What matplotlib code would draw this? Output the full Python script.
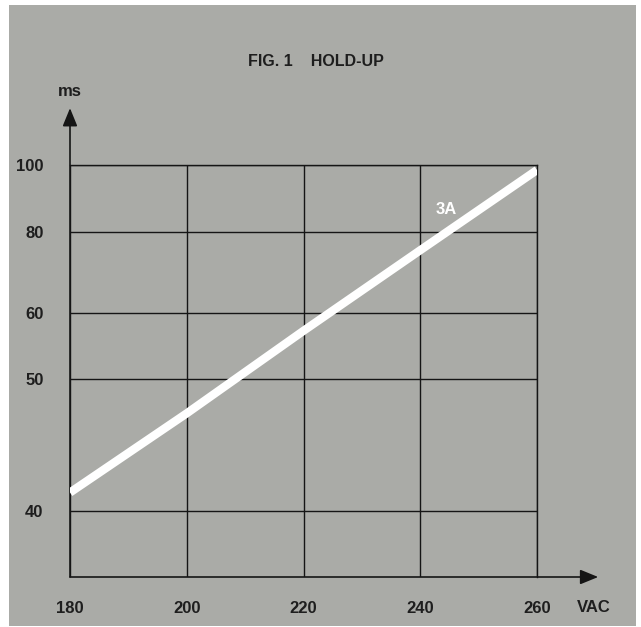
import numpy as np
import matplotlib
matplotlib.use("Agg")
import matplotlib.pyplot as plt
from matplotlib.patches import Rectangle

# data
vac = [180, 200, 220, 240, 260]
hold_up = [41.4, 47.4, 57.3, 75.5, 98.5]
xticks = [180, 200, 220, 240, 260]
yticks = [40, 50, 60, 80, 100]

# the printed y axis is not a clean log scale, so map it piece by piece
scale_vals = [35, 40, 50, 60, 80, 100]
scale_pos = [0, 66, 198, 264, 345, 412]

def fwd(v):
    return np.interp(v, scale_vals, scale_pos, left=-1e3, right=1e3)

def inv(p):
    return np.interp(p, scale_pos, scale_vals)

plt.rcParams['font.family'] = ['Liberation Sans', 'DejaVu Sans']

bg = '#aaaba7'
ink = '#151515'
txt = '#1e1e1e'

fig = plt.figure(figsize=(6.41, 6.27), dpi=100, facecolor='white')
fig.patches.append(Rectangle((9 / 641, 1 - 626 / 627), 627 / 641, 621 / 627,
                             transform=fig.transFigure, facecolor=bg,
                             edgecolor='none', zorder=-10))

ax = fig.add_axes([70 / 641, 1 - 577 / 627, 467 / 641, 412 / 627])
ax.set_facecolor('none')
ax.set_yscale('function', functions=(fwd, inv))
ax.set_xlim(180, 260)
ax.set_ylim(35, 100)

ax.set_xticks(xticks)
ax.set_yticks(yticks)
ax.set_xticklabels([str(t) for t in xticks])
ax.set_yticklabels([str(t) for t in yticks])
ax.yaxis.set_minor_locator(matplotlib.ticker.NullLocator())
ax.tick_params(length=0, labelsize=12, colors=ink)
ax.tick_params(axis='x', pad=17)
ax.tick_params(axis='y', pad=19)
for lab in ax.get_xticklabels() + ax.get_yticklabels():
    lab.set_fontweight('bold')
    lab.set_color(txt)

ax.grid(True, color=ink, linewidth=1.0)
for s in ['left', 'bottom']:
    ax.spines[s].set_visible(False)
for s in ['top', 'right']:
    ax.spines[s].set_color(ink)
    ax.spines[s].set_linewidth(1.0)

# axis arrows
arrow = dict(arrowstyle='-|>,head_length=1.1,head_width=0.45', color=ink,
             linewidth=1.2, shrinkA=0, shrinkB=0)
ax.annotate('', xy=(0, 1.138), xytext=(0, 0), xycoords='axes fraction',
            arrowprops=arrow, annotation_clip=False)
ax.annotate('', xy=(1.131, 0), xytext=(0, 0), xycoords='axes fraction',
            arrowprops=arrow, annotation_clip=False)

ax.plot(vac, hold_up, color='white', linewidth=6, solid_capstyle='butt',
        zorder=3)
ax.text(244.4, 86.6, '3A', color='white', fontsize=12, fontweight='bold',
        ha='center', va='center')

fig.text(70 / 641, 1 - 92 / 627, 'ms', fontsize=12, fontweight='bold',
         color=txt, ha='center', va='center')
fig.text(594 / 641, 1 - 607 / 627, 'VAC', fontsize=12, fontweight='bold',
         color=txt, ha='center', va='center')
fig.text(316 / 641, 1 - 62 / 627, 'FIG. 1    HOLD-UP', fontsize=11.5,
         fontweight='bold', color=txt, ha='center', va='center')

fig.savefig('out.png', dpi=100, facecolor='white')
